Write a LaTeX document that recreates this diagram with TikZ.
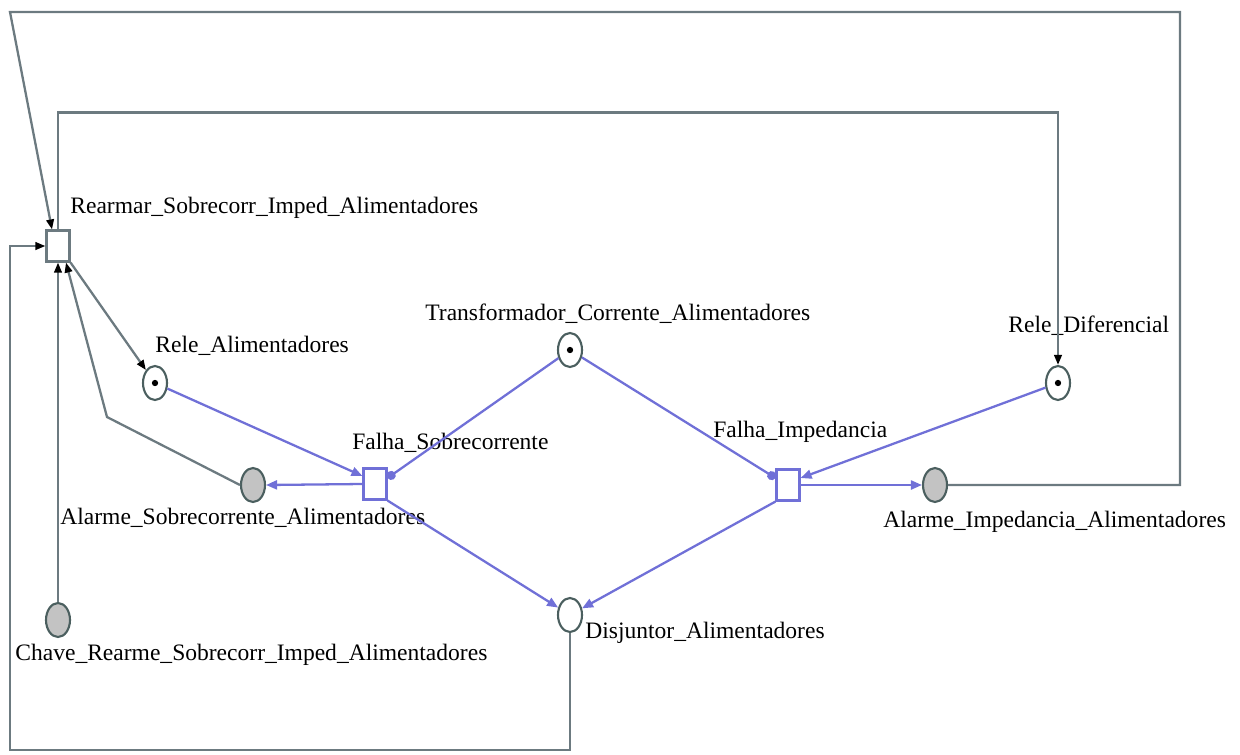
\documentclass[tikz,border=0pt]{standalone}
\usepackage{fontspec}
\setmainfont{Liberation Serif}
\usetikzlibrary{arrows.meta,shapes.geometric}
\definecolor{arcgray}{RGB}{108,122,128}
\definecolor{arcblue}{RGB}{112,112,215}
\definecolor{placeline}{RGB}{75,95,95}
\definecolor{alarmfill}{RGB}{195,195,195}

\begin{document}
\begin{tikzpicture}[x=0.02cm, y=-0.02cm,
    myplace/.style={shape=ellipse, draw=placeline, line width=1.2pt, fill=white,
        minimum width=0.48cm, minimum height=0.68cm, inner sep=0pt},
    mymarked/.style={myplace, path picture={
        \fill[black] (path picture bounding box.center) circle (1.8pt);}},
    myalarm/.style={myplace, fill=alarmfill},
    mytrans/.style={shape=rectangle, draw=arcgray, line width=1.2pt, fill=white,
        minimum width=0.46cm, minimum height=0.62cm, inner sep=0pt},
    mylabel/.style={anchor=west, inner sep=0pt, font=\fontsize{13.4}{16}\selectfont},
    grayarc/.style={draw=arcgray, line width=1.3pt,
        -{Triangle[color=black, length=0.2cm, width=0.15cm]}},
    bluearc/.style={draw=arcblue, line width=1.3pt,
        -{Triangle[length=0.22cm, width=0.18cm]}},
    testarc/.style={draw=arcblue, line width=1.3pt, -{Circle[length=0.18cm]}}
    ]
    \useasboundingbox (0,0) rectangle (1240,754);

    % places and transitions
    \node [mytrans]             (rearmar) at (58,246)  {};
    \node [mymarked]            (releal)  at (155,383) {};
    \node [myalarm]             (alsob)   at (253,485) {};
    \node [mytrans,draw=arcblue] (falsob) at (375,484) {};
    \node [mymarked]            (transf)  at (570,350) {};
    \node [mytrans,draw=arcblue] (falimp) at (788,485) {};
    \node [mymarked]            (reledif) at (1058,383) {};
    \node [myalarm]             (alimp)   at (935,485) {};
    \node [myplace]             (disj)    at (570,615) {};
    \node [myalarm]             (chave)   at (58,620)  {};

    % names
    \node [mylabel] (lrearmar) at (70,208)  {Rearmar\_Sobrecorr\_Imped\_Alimentadores};
    \node [mylabel] (lreleal)  at (155,346) {Rele\_Alimentadores};
    \node [mylabel] (ltransf)  at (425,314) {Transformador\_Corrente\_Alimentadores};
    \node [mylabel] (lfalsob)  at (352,443) {Falha\_Sobrecorrente};
    \node [mylabel] (lfalimp)  at (713,432) {Falha\_Impedancia};
    \node [mylabel] (lreledif) at (1008,326) {Rele\_Diferencial};
    \node [mylabel] (lalsob)   at (60,518)  {Alarme\_Sobrecorrente\_Alimentadores};
    \node [mylabel] (lalimp)   at (883,522) {Alarme\_Impedancia\_Alimentadores};
    \node [mylabel] (lchave)   at (15,655)  {Chave\_Rearme\_Sobrecorr\_Imped\_Alimentadores};
    \node [mylabel] (ldisj)    at (585,633) {Disjuntor\_Alimentadores};

    \coordinate (bl) at (10,750);
    \coordinate (tl) at (10,12);
    \coordinate (tr) at (1180,12);
    \coordinate (bend) at (107,417);

    % gray arcs
    \draw [grayarc] (disj.south) -- (disj.south |- bl) -- (bl) |- (rearmar.west);
    \draw [grayarc] (alimp.east) -| (tr) -- (tl) -- ([xshift=-0.12cm]rearmar.north);
    \draw [grayarc] (rearmar.north) -- ++(0,-117) -| (reledif.north);
    \draw [grayarc] (rearmar.south east) -- (releal);
    \draw [grayarc] (alsob.west) -- (bend) -- ([xshift=0.16cm]rearmar.south);
    \draw [grayarc] (chave.north) -- (rearmar.south);

    % blue arcs
    \draw [bluearc] (releal) -- ([yshift=0.16cm]falsob.west);
    \draw [testarc] (transf) -- ([yshift=0.12cm]falsob.east);
    \draw [testarc] (transf) -- ([yshift=0.14cm]falimp.west);
    \draw [bluearc] (reledif) -- ([yshift=0.14cm]falimp.east);
    \draw [bluearc] (falsob.west) -- (alsob.east);
    \draw [bluearc] (falimp.east) -- (alimp.west);
    \draw [bluearc] (falsob.south east) -- (disj);
    \draw [bluearc] (falimp.south west) -- (disj);
\end{tikzpicture}
\end{document}
